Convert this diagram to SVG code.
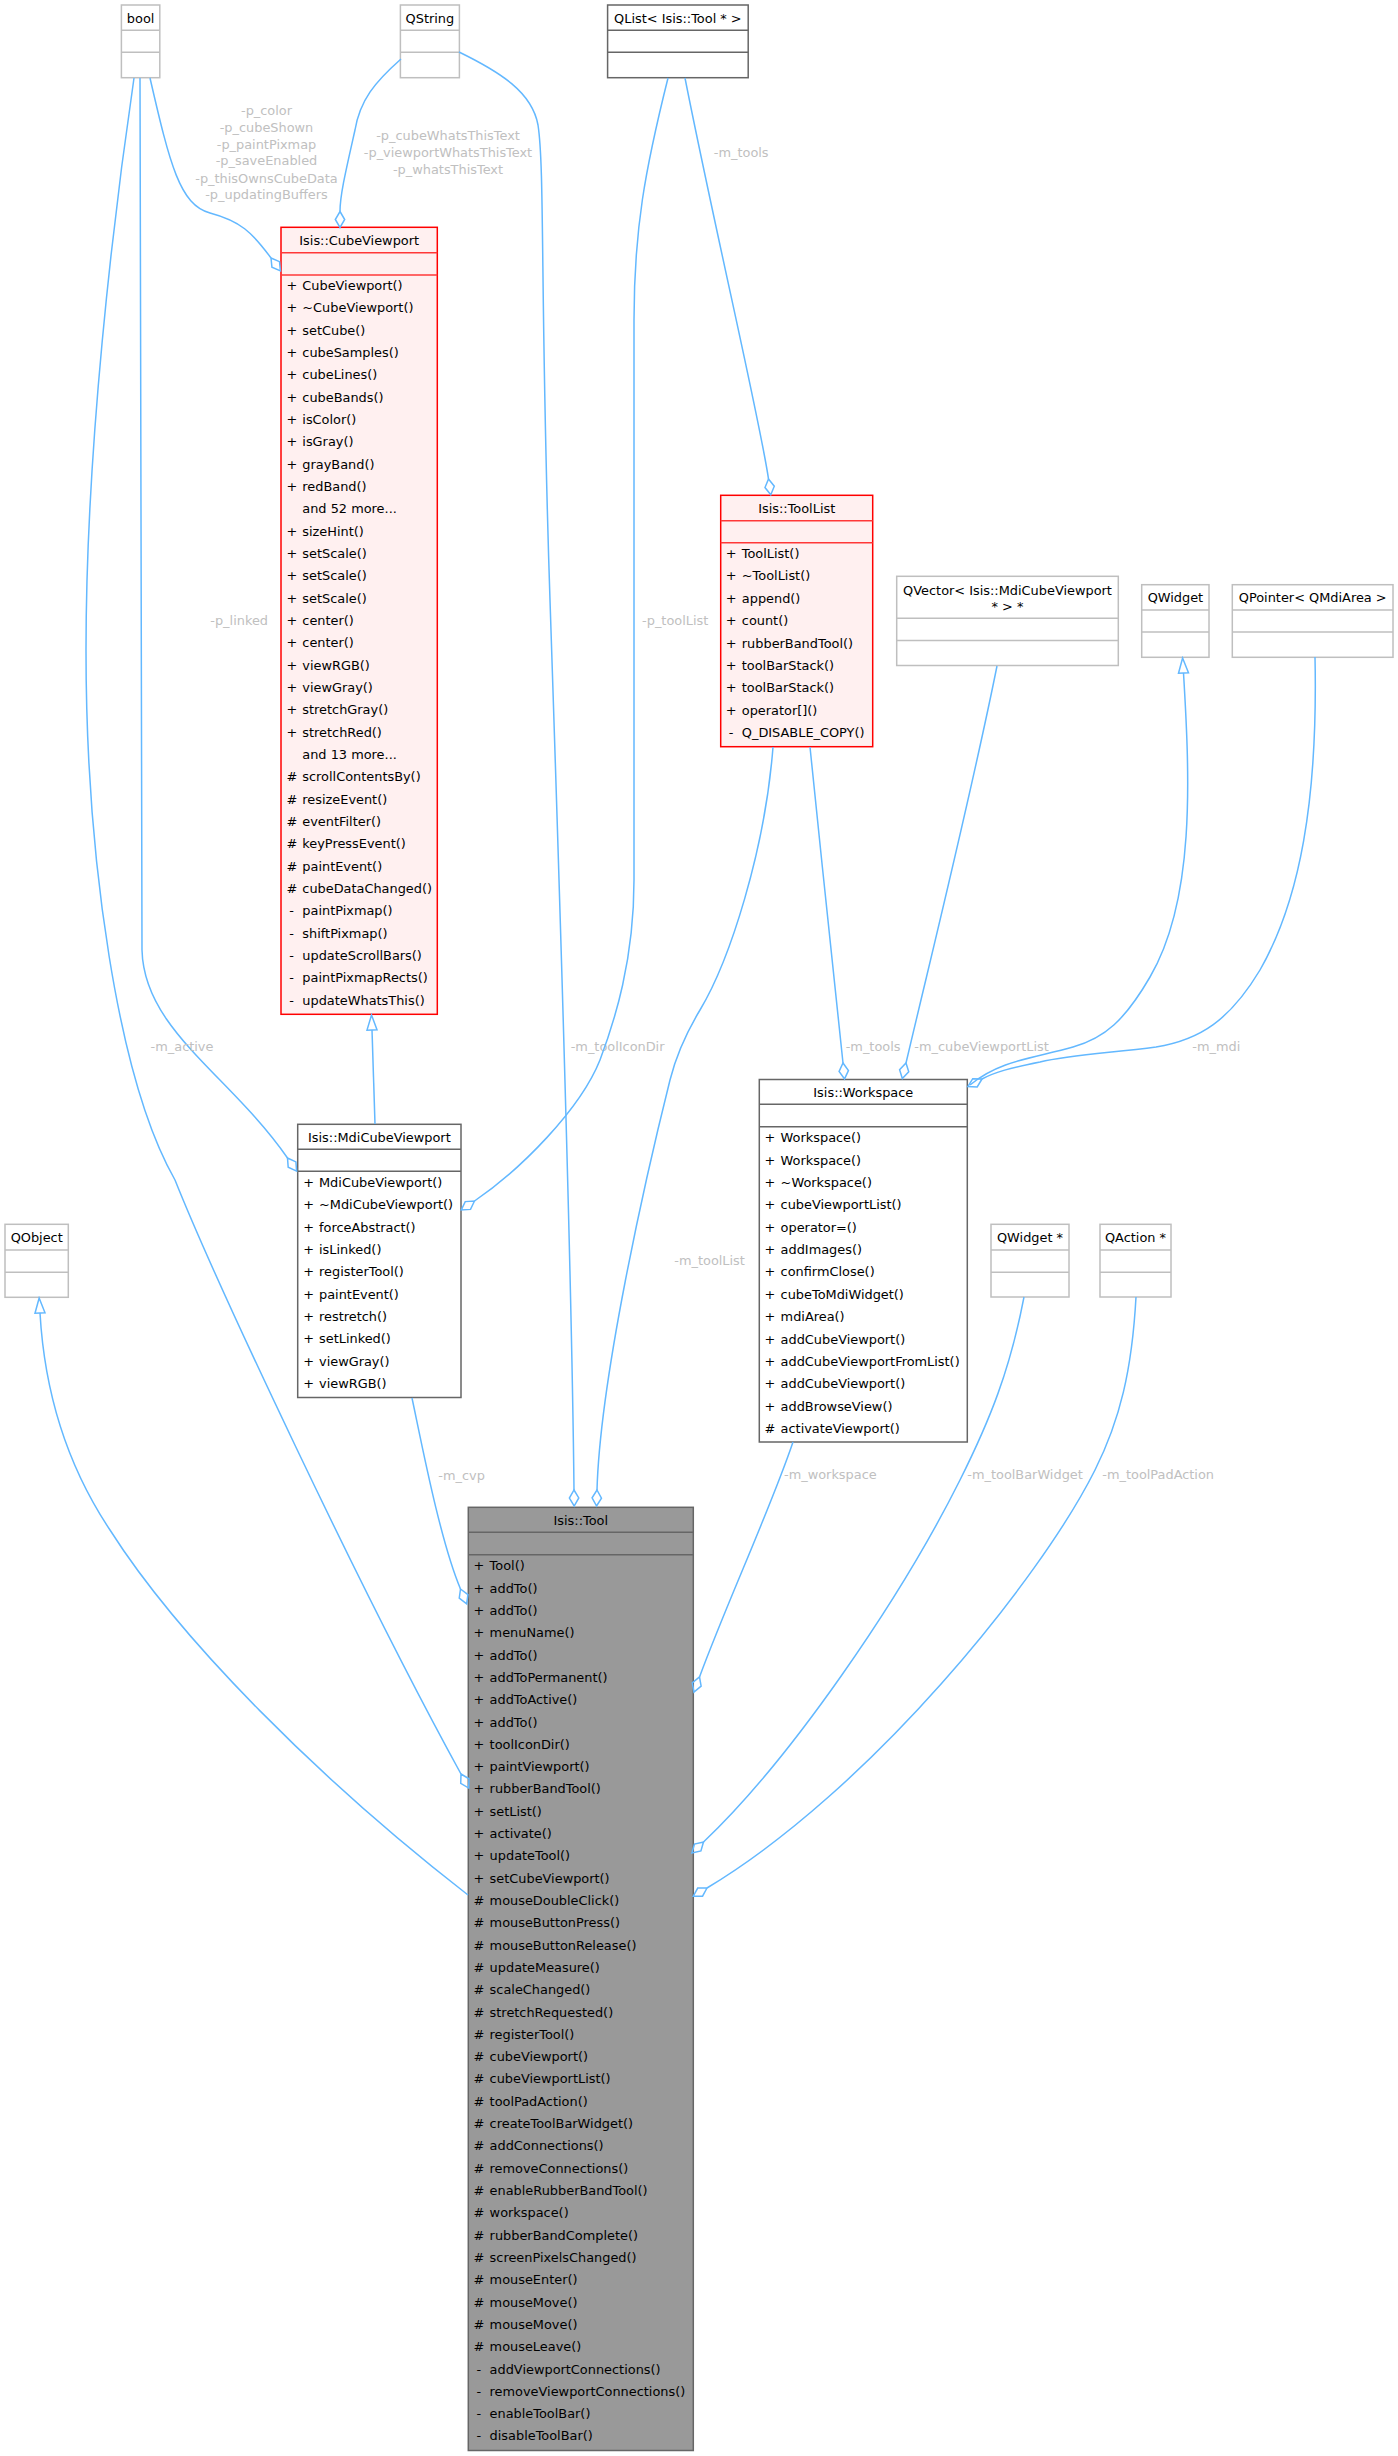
<svg xmlns="http://www.w3.org/2000/svg" width="1398" height="2456" viewBox="0 0 1398 2456">
<style>
text{font-family:"DejaVu Sans",sans-serif;font-size:12.9px;fill:#000}
.c{text-anchor:middle}
.lbl{fill:#c0c0c0}
.e{fill:none;stroke:#63b8ff;stroke-width:1.5}
.agg{marker-end:url(#dia)}
.inh{marker-end:url(#tri)}
.g{fill:#fff;stroke:#bfbfbf;stroke-width:1.5}
.d{fill:#fff;stroke:#666;stroke-width:1.5}
.r{fill:#fff0f0;stroke:#f00;stroke-width:1.5}
.t{fill:#999;stroke:#666;stroke-width:1.5}
.gl{stroke:#bfbfbf;stroke-width:1.5}
.dl{stroke:#666;stroke-width:1.5}
.rl{stroke:#ff3838;stroke-width:1.5}
</style>
<defs>
<marker id="dia" markerUnits="userSpaceOnUse" viewBox="-2 -7 20 14" markerWidth="20" markerHeight="14" refX="0" refY="0" orient="auto"><path d="M0,0 L8,-4.7 L16,0 L8,4.7 Z" fill="none" stroke="#63b8ff" stroke-width="1.5"/></marker>
<marker id="tri" markerUnits="userSpaceOnUse" viewBox="-2 -7 19 14" markerWidth="19" markerHeight="14" refX="0" refY="0" orient="auto"><path d="M0,-5 L15,0 L0,5 Z" fill="none" stroke="#63b8ff" stroke-width="1.5"/></marker>
</defs>
<rect width="1398" height="2456" fill="#fff"/>

<g id="node-bool">
<rect class="g" x="121.4" y="5" width="38.4" height="72.7"/>
<line class="gl" x1="121.4" y1="30.3" x2="159.8" y2="30.3"/><line class="gl" x1="121.4" y1="52.3" x2="159.8" y2="52.3"/>
<text class="c" x="140.6" y="22.6">bool</text>
</g>
<g id="node-QString">
<rect class="g" x="400.4" y="5" width="59" height="72.7"/>
<line class="gl" x1="400.4" y1="30.3" x2="459.4" y2="30.3"/><line class="gl" x1="400.4" y1="52.3" x2="459.4" y2="52.3"/>
<text class="c" x="429.9" y="22.6">QString</text>
</g>
<g id="node-QList">
<rect class="d" x="607.6" y="5" width="140.6" height="72.7"/>
<line class="dl" x1="607.6" y1="30.3" x2="748.2" y2="30.3"/><line class="dl" x1="607.6" y1="52.3" x2="748.2" y2="52.3"/>
<text class="c" x="677.9" y="22.6">QList&lt; Isis::Tool * &gt;</text>
</g>

<g id="node-CubeViewport">
<rect class="r" x="281" y="227.3" width="156.3" height="787"/>
<line class="rl" x1="281" y1="252.7" x2="437.3" y2="252.7"/><line class="rl" x1="281" y1="275" x2="437.3" y2="275"/>
<text class="c" x="359.2" y="244.9">Isis::CubeViewport</text>
<text x="286.5" y="289.9">+</text><text x="302.3" y="289.9">CubeViewport()</text>
<text x="286.5" y="312.2">+</text><text x="302.3" y="312.2">~CubeViewport()</text>
<text x="286.5" y="334.6">+</text><text x="302.3" y="334.6">setCube()</text>
<text x="286.5" y="356.9">+</text><text x="302.3" y="356.9">cubeSamples()</text>
<text x="286.5" y="379.2">+</text><text x="302.3" y="379.2">cubeLines()</text>
<text x="286.5" y="401.6">+</text><text x="302.3" y="401.6">cubeBands()</text>
<text x="286.5" y="423.9">+</text><text x="302.3" y="423.9">isColor()</text>
<text x="286.5" y="446.2">+</text><text x="302.3" y="446.2">isGray()</text>
<text x="286.5" y="468.5">+</text><text x="302.3" y="468.5">grayBand()</text>
<text x="286.5" y="490.9">+</text><text x="302.3" y="490.9">redBand()</text>
<text x="302.3" y="513.2">and 52 more...</text>
<text x="286.5" y="535.5">+</text><text x="302.3" y="535.5">sizeHint()</text>
<text x="286.5" y="557.9">+</text><text x="302.3" y="557.9">setScale()</text>
<text x="286.5" y="580.2">+</text><text x="302.3" y="580.2">setScale()</text>
<text x="286.5" y="602.5">+</text><text x="302.3" y="602.5">setScale()</text>
<text x="286.5" y="624.9">+</text><text x="302.3" y="624.9">center()</text>
<text x="286.5" y="647.2">+</text><text x="302.3" y="647.2">center()</text>
<text x="286.5" y="669.5">+</text><text x="302.3" y="669.5">viewRGB()</text>
<text x="286.5" y="691.8">+</text><text x="302.3" y="691.8">viewGray()</text>
<text x="286.5" y="714.2">+</text><text x="302.3" y="714.2">stretchGray()</text>
<text x="286.5" y="736.5">+</text><text x="302.3" y="736.5">stretchRed()</text>
<text x="302.3" y="758.8">and 13 more...</text>
<text x="286.5" y="781.2">#</text><text x="302.3" y="781.2">scrollContentsBy()</text>
<text x="286.5" y="803.5">#</text><text x="302.3" y="803.5">resizeEvent()</text>
<text x="286.5" y="825.8">#</text><text x="302.3" y="825.8">eventFilter()</text>
<text x="286.5" y="848.2">#</text><text x="302.3" y="848.2">keyPressEvent()</text>
<text x="286.5" y="870.5">#</text><text x="302.3" y="870.5">paintEvent()</text>
<text x="286.5" y="892.8">#</text><text x="302.3" y="892.8">cubeDataChanged()</text>
<text x="289.3" y="915.1">-</text><text x="302.3" y="915.1">paintPixmap()</text>
<text x="289.3" y="937.5">-</text><text x="302.3" y="937.5">shiftPixmap()</text>
<text x="289.3" y="959.8">-</text><text x="302.3" y="959.8">updateScrollBars()</text>
<text x="289.3" y="982.1">-</text><text x="302.3" y="982.1">paintPixmapRects()</text>
<text x="289.3" y="1004.5">-</text><text x="302.3" y="1004.5">updateWhatsThis()</text>
</g>

<g id="node-ToolList">
<rect class="r" x="720.7" y="495.3" width="152" height="251.4"/>
<line class="rl" x1="720.7" y1="520.7" x2="872.7" y2="520.7"/><line class="rl" x1="720.7" y1="542.7" x2="872.7" y2="542.7"/>
<text class="c" x="796.7" y="512.9">Isis::ToolList</text>
<text x="725.8" y="557.9">+</text><text x="741.8" y="557.9">ToolList()</text>
<text x="725.8" y="580.3">+</text><text x="741.8" y="580.3">~ToolList()</text>
<text x="725.8" y="602.7">+</text><text x="741.8" y="602.7">append()</text>
<text x="725.8" y="625.1">+</text><text x="741.8" y="625.1">count()</text>
<text x="725.8" y="647.5">+</text><text x="741.8" y="647.5">rubberBandTool()</text>
<text x="725.8" y="669.9">+</text><text x="741.8" y="669.9">toolBarStack()</text>
<text x="725.8" y="692.3">+</text><text x="741.8" y="692.3">toolBarStack()</text>
<text x="725.8" y="714.7">+</text><text x="741.8" y="714.7">operator[]()</text>
<text x="728.8" y="737.1">-</text><text x="741.8" y="737.1">Q_DISABLE_COPY()</text>
</g>

<g id="node-QVector">
<rect class="g" x="896.7" y="576.3" width="221.6" height="89.2"/>
<line class="gl" x1="896.7" y1="618.3" x2="1118.3" y2="618.3"/><line class="gl" x1="896.7" y1="640.5" x2="1118.3" y2="640.5"/>
<text class="c" x="1007.5" y="594.6">QVector&lt; Isis::MdiCubeViewport</text>
<text class="c" x="1007.5" y="611.3">* &gt; *</text>
</g>
<g id="node-QWidget">
<rect class="g" x="1141.7" y="584.7" width="67.3" height="72.6"/>
<line class="gl" x1="1141.7" y1="610" x2="1209" y2="610"/><line class="gl" x1="1141.7" y1="632" x2="1209" y2="632"/>
<text class="c" x="1175.4" y="602.3">QWidget</text>
</g>
<g id="node-QPointer">
<rect class="g" x="1232.3" y="584.7" width="160.7" height="72.6"/>
<line class="gl" x1="1232.3" y1="610" x2="1393" y2="610"/><line class="gl" x1="1232.3" y1="632" x2="1393" y2="632"/>
<text class="c" x="1312.7" y="602.3">QPointer&lt; QMdiArea &gt;</text>
</g>

<g id="node-MdiCubeViewport">
<rect class="d" x="297.7" y="1124.3" width="163.3" height="273.2"/>
<line class="dl" x1="297.7" y1="1149.3" x2="461" y2="1149.3"/><line class="dl" x1="297.7" y1="1171.3" x2="461" y2="1171.3"/>
<text class="c" x="379.35" y="1141.9">Isis::MdiCubeViewport</text>
<text x="303.2" y="1186.9">+</text><text x="319" y="1186.9">MdiCubeViewport()</text>
<text x="303.2" y="1209.2">+</text><text x="319" y="1209.2">~MdiCubeViewport()</text>
<text x="303.2" y="1231.6">+</text><text x="319" y="1231.6">forceAbstract()</text>
<text x="303.2" y="1253.9">+</text><text x="319" y="1253.9">isLinked()</text>
<text x="303.2" y="1276.2">+</text><text x="319" y="1276.2">registerTool()</text>
<text x="303.2" y="1298.6">+</text><text x="319" y="1298.6">paintEvent()</text>
<text x="303.2" y="1320.9">+</text><text x="319" y="1320.9">restretch()</text>
<text x="303.2" y="1343.2">+</text><text x="319" y="1343.2">setLinked()</text>
<text x="303.2" y="1365.5">+</text><text x="319" y="1365.5">viewGray()</text>
<text x="303.2" y="1387.9">+</text><text x="319" y="1387.9">viewRGB()</text>
</g>

<g id="node-Workspace">
<rect class="d" x="759.3" y="1079.5" width="208" height="362.5"/>
<line class="dl" x1="759.3" y1="1104.3" x2="967.3" y2="1104.3"/><line class="dl" x1="759.3" y1="1126.7" x2="967.3" y2="1126.7"/>
<text class="c" x="863.3" y="1097.1">Isis::Workspace</text>
<text x="764.6" y="1142.3">+</text><text x="780.6" y="1142.3">Workspace()</text>
<text x="764.6" y="1164.7">+</text><text x="780.6" y="1164.7">Workspace()</text>
<text x="764.6" y="1187">+</text><text x="780.6" y="1187">~Workspace()</text>
<text x="764.6" y="1209.4">+</text><text x="780.6" y="1209.4">cubeViewportList()</text>
<text x="764.6" y="1231.7">+</text><text x="780.6" y="1231.7">operator=()</text>
<text x="764.6" y="1254.1">+</text><text x="780.6" y="1254.1">addImages()</text>
<text x="764.6" y="1276.4">+</text><text x="780.6" y="1276.4">confirmClose()</text>
<text x="764.6" y="1298.8">+</text><text x="780.6" y="1298.8">cubeToMdiWidget()</text>
<text x="764.6" y="1321.1">+</text><text x="780.6" y="1321.1">mdiArea()</text>
<text x="764.6" y="1343.5">+</text><text x="780.6" y="1343.5">addCubeViewport()</text>
<text x="764.6" y="1365.8">+</text><text x="780.6" y="1365.8">addCubeViewportFromList()</text>
<text x="764.6" y="1388.2">+</text><text x="780.6" y="1388.2">addCubeViewport()</text>
<text x="764.6" y="1410.5">+</text><text x="780.6" y="1410.5">addBrowseView()</text>
<text x="764.6" y="1432.9">#</text><text x="780.6" y="1432.9">activateViewport()</text>
</g>

<g id="node-QObject">
<rect class="g" x="5" y="1224.3" width="63.3" height="73"/>
<line class="gl" x1="5" y1="1250" x2="68.3" y2="1250"/><line class="gl" x1="5" y1="1272.3" x2="68.3" y2="1272.3"/>
<text class="c" x="36.7" y="1241.9">QObject</text>
</g>
<g id="node-QWidgetPtr">
<rect class="g" x="991" y="1224.3" width="78" height="72.7"/>
<line class="gl" x1="991" y1="1250" x2="1069" y2="1250"/><line class="gl" x1="991" y1="1272.3" x2="1069" y2="1272.3"/>
<text class="c" x="1030" y="1241.9">QWidget *</text>
</g>
<g id="node-QActionPtr">
<rect class="g" x="1100" y="1224.3" width="71" height="72.7"/>
<line class="gl" x1="1100" y1="1250" x2="1171" y2="1250"/><line class="gl" x1="1100" y1="1272.3" x2="1171" y2="1272.3"/>
<text class="c" x="1135.5" y="1241.9">QAction *</text>
</g>

<g id="node-Tool">
<rect class="t" x="468.3" y="1507.3" width="225" height="943.2"/>
<line class="dl" x1="468.3" y1="1532.3" x2="693.3" y2="1532.3"/><line class="dl" x1="468.3" y1="1554.7" x2="693.3" y2="1554.7"/>
<text class="c" x="580.8" y="1524.9">Isis::Tool</text>
<text x="473.6" y="1570.3">+</text><text x="489.6" y="1570.3">Tool()</text>
<text x="473.6" y="1592.6">+</text><text x="489.6" y="1592.6">addTo()</text>
<text x="473.6" y="1614.9">+</text><text x="489.6" y="1614.9">addTo()</text>
<text x="473.6" y="1637.2">+</text><text x="489.6" y="1637.2">menuName()</text>
<text x="473.6" y="1659.5">+</text><text x="489.6" y="1659.5">addTo()</text>
<text x="473.6" y="1681.9">+</text><text x="489.6" y="1681.9">addToPermanent()</text>
<text x="473.6" y="1704.2">+</text><text x="489.6" y="1704.2">addToActive()</text>
<text x="473.6" y="1726.5">+</text><text x="489.6" y="1726.5">addTo()</text>
<text x="473.6" y="1748.8">+</text><text x="489.6" y="1748.8">toolIconDir()</text>
<text x="473.6" y="1771.1">+</text><text x="489.6" y="1771.1">paintViewport()</text>
<text x="473.6" y="1793.4">+</text><text x="489.6" y="1793.4">rubberBandTool()</text>
<text x="473.6" y="1815.7">+</text><text x="489.6" y="1815.7">setList()</text>
<text x="473.6" y="1838">+</text><text x="489.6" y="1838">activate()</text>
<text x="473.6" y="1860.3">+</text><text x="489.6" y="1860.3">updateTool()</text>
<text x="473.6" y="1882.6">+</text><text x="489.6" y="1882.6">setCubeViewport()</text>
<text x="473.6" y="1904.9">#</text><text x="489.6" y="1904.9">mouseDoubleClick()</text>
<text x="473.6" y="1927.3">#</text><text x="489.6" y="1927.3">mouseButtonPress()</text>
<text x="473.6" y="1949.6">#</text><text x="489.6" y="1949.6">mouseButtonRelease()</text>
<text x="473.6" y="1971.9">#</text><text x="489.6" y="1971.9">updateMeasure()</text>
<text x="473.6" y="1994.2">#</text><text x="489.6" y="1994.2">scaleChanged()</text>
<text x="473.6" y="2016.5">#</text><text x="489.6" y="2016.5">stretchRequested()</text>
<text x="473.6" y="2038.8">#</text><text x="489.6" y="2038.8">registerTool()</text>
<text x="473.6" y="2061.1">#</text><text x="489.6" y="2061.1">cubeViewport()</text>
<text x="473.6" y="2083.4">#</text><text x="489.6" y="2083.4">cubeViewportList()</text>
<text x="473.6" y="2105.7">#</text><text x="489.6" y="2105.7">toolPadAction()</text>
<text x="473.6" y="2128">#</text><text x="489.6" y="2128">createToolBarWidget()</text>
<text x="473.6" y="2150.4">#</text><text x="489.6" y="2150.4">addConnections()</text>
<text x="473.6" y="2172.7">#</text><text x="489.6" y="2172.7">removeConnections()</text>
<text x="473.6" y="2195">#</text><text x="489.6" y="2195">enableRubberBandTool()</text>
<text x="473.6" y="2217.3">#</text><text x="489.6" y="2217.3">workspace()</text>
<text x="473.6" y="2239.6">#</text><text x="489.6" y="2239.6">rubberBandComplete()</text>
<text x="473.6" y="2261.9">#</text><text x="489.6" y="2261.9">screenPixelsChanged()</text>
<text x="473.6" y="2284.2">#</text><text x="489.6" y="2284.2">mouseEnter()</text>
<text x="473.6" y="2306.5">#</text><text x="489.6" y="2306.5">mouseMove()</text>
<text x="473.6" y="2328.8">#</text><text x="489.6" y="2328.8">mouseMove()</text>
<text x="473.6" y="2351.1">#</text><text x="489.6" y="2351.1">mouseLeave()</text>
<text x="476.6" y="2373.5">-</text><text x="489.6" y="2373.5">addViewportConnections()</text>
<text x="476.6" y="2395.8">-</text><text x="489.6" y="2395.8">removeViewportConnections()</text>
<text x="476.6" y="2418.1">-</text><text x="489.6" y="2418.1">enableToolBar()</text>
<text x="476.6" y="2440.4">-</text><text x="489.6" y="2440.4">disableToolBar()</text>
</g>

<g id="edges">
<path class="e agg" d="M150,78 C170,165 180,205 210,213 C240,221 252,232 271,258"/>
<text class="lbl c" x="266.5" y="114.6">-p_color</text>
<text class="lbl c" x="266.5" y="131.6">-p_cubeShown</text>
<text class="lbl c" x="266.5" y="148.6">-p_paintPixmap</text>
<text class="lbl c" x="266.5" y="165.3">-p_saveEnabled</text>
<text class="lbl c" x="266.5" y="182.6">-p_thisOwnsCubeData</text>
<text class="lbl c" x="266.5" y="199.3">-p_updatingBuffers</text>

<path class="e agg" d="M401,59 C375,82 360,100 355,130 C346,170 340,195 340,211.5"/>
<text class="lbl c" x="448" y="140.3">-p_cubeWhatsThisText</text>
<text class="lbl c" x="448" y="157.3">-p_viewportWhatsThisText</text>
<text class="lbl c" x="448" y="173.9">-p_whatsThisText</text>

<path class="e agg" d="M459,52 C500,72 532,92 538,125 C545,170 540,300 550,600 C560,900 572,1300 574,1490"/>
<text class="lbl" x="570.7" y="1051.3">-m_toolIconDir</text>

<path class="e agg" d="M685,78 C715,230 760,420 768.5,479"/>
<text class="lbl" x="713.8" y="157.3">-m_tools</text>

<path class="e agg" d="M668,78 C645,170 634,230 634,320 L634,880 C634,960 615,1020 600,1060 C580,1110 520,1170 474.5,1201"/>
<text class="lbl" x="708.3" y="625.3" text-anchor="end">-p_toolList</text>

<path class="e agg" d="M140,78 L142,950 C144,1030 230,1075 287.5,1158"/>
<text class="lbl" x="268" y="625.3" text-anchor="end">-p_linked</text>

<path class="e agg" d="M134,78 C113,220 86,450 86,650 C86,860 118,1080 175,1180 C215,1280 360,1590 461,1774"/>
<text class="lbl c" x="182" y="1051.3">-m_active</text>

<path class="e agg" d="M773,747 C765,850 730,960 700,1010 C685,1035 675,1060 670,1080 C645,1180 600,1380 597,1490"/>
<text class="lbl" x="674.3" y="1265.3">-m_toolList</text>

<path class="e agg" d="M810,747 C820,850 835,980 843,1063"/>
<text class="lbl" x="845.7" y="1051.3">-m_tools</text>

<path class="e agg" d="M997,666 C970,800 935,940 906,1063"/>
<text class="lbl" x="914.3" y="1051.3">-m_cubeViewportList</text>

<path class="e inh" d="M970,1085 C1000,1060 1035,1058 1073,1047 C1105,1038 1125,1020 1150,977 C1195,900 1190,780 1183.5,673"/>

<path class="e agg" d="M1315,657 C1318,800 1300,900 1260,970 C1230,1020 1200,1040 1156,1047 C1110,1053 1070,1055 1040,1062 C1010,1068 995,1072 982,1079"/>
<text class="lbl" x="1192.3" y="1051.3">-m_mdi</text>

<path class="e inh" d="M375,1124 L372,1030"/>

<path class="e agg" d="M412,1398 C422,1445 440,1540 460.5,1589"/>
<text class="lbl" x="438.3" y="1479.6">-m_cvp</text>

<path class="e agg" d="M793,1442 C770,1510 728,1600 699.5,1677"/>
<text class="lbl" x="784" y="1478.9">-m_workspace</text>

<path class="e agg" d="M1024,1297 C1010,1370 990,1420 960,1480 C900,1600 790,1760 703.5,1842"/>
<text class="lbl" x="967.3" y="1478.9">-m_toolBarWidget</text>

<path class="e agg" d="M1136,1297 C1132,1370 1120,1420 1095,1470 C1040,1580 870,1790 707,1888"/>
<text class="lbl" x="1102.3" y="1478.9">-m_toolPadAction</text>

<path class="e inh" d="M468,1895 C320,1780 180,1640 110,1530 C70,1470 45,1400 40,1313"/>
</g>
</svg>
